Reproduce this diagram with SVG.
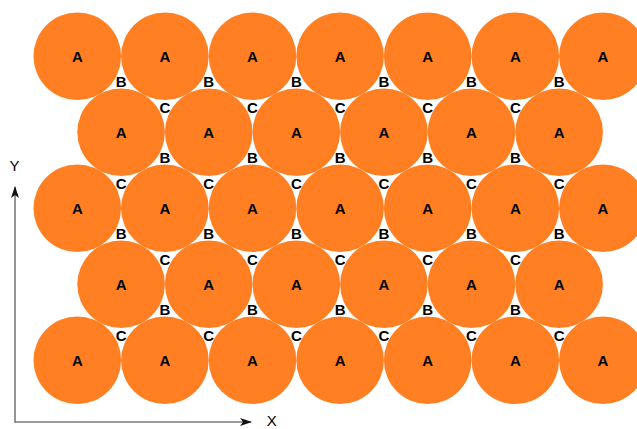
<svg xmlns="http://www.w3.org/2000/svg" width="637" height="429" viewBox="0 0 637 429">
<defs>
<style>
.n circle{fill:#FF7F22}
.lbl{font-family:"Liberation Sans",Arial,sans-serif;font-weight:bold;font-size:15px;fill:#000;text-anchor:middle}
.ax{font-family:"Liberation Sans",Arial,sans-serif;font-size:15px;fill:#000;text-anchor:middle}
.axl{stroke:#7a7a7a;stroke-width:1.6;fill:none}
</style>
<marker id="arr" viewBox="0 0 12 8" refX="11" refY="4" markerWidth="12" markerHeight="8" markerUnits="userSpaceOnUse" orient="auto">
<path d="M0,0 L12,4 L0,8 L3,4 Z" fill="#111"/>
</marker>
</defs>
<g id="nodes" class="n">
<g id="r1">
<circle cx="77.3" cy="56.3" r="43.8"/><circle cx="164.9" cy="56.3" r="43.8"/><circle cx="252.5" cy="56.3" r="43.8"/><circle cx="340.1" cy="56.3" r="43.8"/><circle cx="427.7" cy="56.3" r="43.8"/><circle cx="515.3" cy="56.3" r="43.8"/><circle cx="602.9" cy="56.3" r="43.8"/>
</g>
<g id="r2">
<circle cx="121.1" cy="132.3" r="43.8"/><circle cx="208.7" cy="132.3" r="43.8"/><circle cx="296.3" cy="132.3" r="43.8"/><circle cx="383.9" cy="132.3" r="43.8"/><circle cx="471.5" cy="132.3" r="43.8"/><circle cx="559.1" cy="132.3" r="43.8"/>
</g>
<g id="r3">
<circle cx="77.3" cy="208.3" r="43.8"/><circle cx="164.9" cy="208.3" r="43.8"/><circle cx="252.5" cy="208.3" r="43.8"/><circle cx="340.1" cy="208.3" r="43.8"/><circle cx="427.7" cy="208.3" r="43.8"/><circle cx="515.3" cy="208.3" r="43.8"/><circle cx="602.9" cy="208.3" r="43.8"/>
</g>
<g id="r4">
<circle cx="121.1" cy="284.3" r="43.8"/><circle cx="208.7" cy="284.3" r="43.8"/><circle cx="296.3" cy="284.3" r="43.8"/><circle cx="383.9" cy="284.3" r="43.8"/><circle cx="471.5" cy="284.3" r="43.8"/><circle cx="559.1" cy="284.3" r="43.8"/>
</g>
<g id="r5">
<circle cx="77.3" cy="360.3" r="43.8"/><circle cx="164.9" cy="360.3" r="43.8"/><circle cx="252.5" cy="360.3" r="43.8"/><circle cx="340.1" cy="360.3" r="43.8"/><circle cx="427.7" cy="360.3" r="43.8"/><circle cx="515.3" cy="360.3" r="43.8"/><circle cx="602.9" cy="360.3" r="43.8"/>
</g>
</g>
<g id="labels-A" class="lbl">
<text x="77.3" y="61.7">A</text><text x="164.9" y="61.7">A</text><text x="252.5" y="61.7">A</text><text x="340.1" y="61.7">A</text><text x="427.7" y="61.7">A</text><text x="515.3" y="61.7">A</text><text x="602.9" y="61.7">A</text>
<text x="121.1" y="137.7">A</text><text x="208.7" y="137.7">A</text><text x="296.3" y="137.7">A</text><text x="383.9" y="137.7">A</text><text x="471.5" y="137.7">A</text><text x="559.1" y="137.7">A</text>
<text x="77.3" y="213.7">A</text><text x="164.9" y="213.7">A</text><text x="252.5" y="213.7">A</text><text x="340.1" y="213.7">A</text><text x="427.7" y="213.7">A</text><text x="515.3" y="213.7">A</text><text x="602.9" y="213.7">A</text>
<text x="121.1" y="289.7">A</text><text x="208.7" y="289.7">A</text><text x="296.3" y="289.7">A</text><text x="383.9" y="289.7">A</text><text x="471.5" y="289.7">A</text><text x="559.1" y="289.7">A</text>
<text x="77.3" y="365.7">A</text><text x="164.9" y="365.7">A</text><text x="252.5" y="365.7">A</text><text x="340.1" y="365.7">A</text><text x="427.7" y="365.7">A</text><text x="515.3" y="365.7">A</text><text x="602.9" y="365.7">A</text>
</g>
<g id="labels-B" class="lbl">
<text x="121.1" y="87.2">B</text><text x="208.7" y="87.2">B</text><text x="296.3" y="87.2">B</text><text x="383.9" y="87.2">B</text><text x="471.5" y="87.2">B</text><text x="559.1" y="87.2">B</text>
<text x="164.9" y="163.2">B</text><text x="252.5" y="163.2">B</text><text x="340.1" y="163.2">B</text><text x="427.7" y="163.2">B</text><text x="515.3" y="163.2">B</text>
<text x="121.1" y="239.2">B</text><text x="208.7" y="239.2">B</text><text x="296.3" y="239.2">B</text><text x="383.9" y="239.2">B</text><text x="471.5" y="239.2">B</text><text x="559.1" y="239.2">B</text>
<text x="164.9" y="315.2">B</text><text x="252.5" y="315.2">B</text><text x="340.1" y="315.2">B</text><text x="427.7" y="315.2">B</text><text x="515.3" y="315.2">B</text>
</g>
<g id="labels-C" class="lbl">
<text x="164.9" y="113">C</text><text x="252.5" y="113">C</text><text x="340.1" y="113">C</text><text x="427.7" y="113">C</text><text x="515.3" y="113">C</text>
<text x="121.1" y="189">C</text><text x="208.7" y="189">C</text><text x="296.3" y="189">C</text><text x="383.9" y="189">C</text><text x="471.5" y="189">C</text><text x="559.1" y="189">C</text>
<text x="164.9" y="265">C</text><text x="252.5" y="265">C</text><text x="340.1" y="265">C</text><text x="427.7" y="265">C</text><text x="515.3" y="265">C</text>
<text x="121.1" y="341">C</text><text x="208.7" y="341">C</text><text x="296.3" y="341">C</text><text x="383.9" y="341">C</text><text x="471.5" y="341">C</text><text x="559.1" y="341">C</text>
</g>
<g id="axes">
<line class="axl" x1="15" y1="422" x2="251" y2="422" marker-end="url(#arr)"/>
<line class="axl" x1="15" y1="422.8" x2="15" y2="187" marker-end="url(#arr)"/>
<text class="ax" x="14.5" y="170.5">Y</text>
<text class="ax" x="271.7" y="425.6">X</text>
</g>
</svg>
